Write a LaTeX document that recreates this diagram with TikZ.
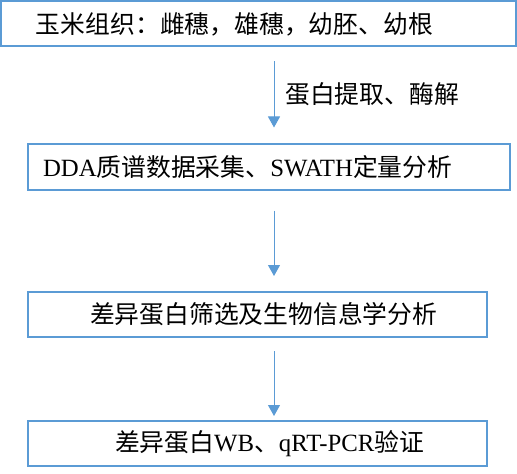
\documentclass[tikz,border=0pt]{standalone}
\usepackage{fontspec}
\setmainfont{Liberation Serif}
\newfontfamily\zhfont{Noto Sans CJK SC}
\newcommand\zh[1]{{\zhfont #1}}
\usetikzlibrary{arrows.meta, calc}
\definecolor{cblue}{HTML}{5B9BD5}
\tikzset{
  every picture/.style={x=0.75pt, y=-0.75pt},
  stage/.style={draw=cblue, line width=1.5pt, fill=white, minimum height=33.75pt, inner xsep=0pt, inner ysep=0pt, align=left, font=\fontsize{18.6pt}{22pt}\selectfont},
  flow/.style={-{Triangle[length=8.25pt, width=9pt]}, draw=cblue, line width=0.75pt},
  note/.style={font=\fontsize{18.6pt}{22pt}\selectfont, anchor=west, inner sep=0pt},
}

\begin{document}
\begin{tikzpicture}
  \useasboundingbox (0,0) rectangle (517,474);
  % the four stages of the workflow
  \foreach \i/\x/\y/\w/\off/\txt in {
      1/258.5/24/386.25pt/26.25pt/{\zh{玉米组织：雌穗，雄穗，幼胚、幼根}},
      2/269/167/361.5pt/11.25pt/{DDA\zh{质谱数据采集、}SWATH\zh{定量分析}},
      3/257.5/314.5/344.25pt/46.5pt/{\zh{差异蛋白筛选及生物信息学分析}},
      4/257.5/443.5/344.25pt/65.25pt/{\zh{差异蛋白}WB\zh{、}qRT-PCR\zh{验证}}} {
    \node[stage, minimum width=\w, text width=\w] (b\i) at (\x,\y) {\hspace*{\off}\txt};
  }

  % arrows down one common axis
  \coordinate (axis) at (274,0);
  \foreach \i/\j/\s/\e in {1/2/10.5pt/12pt, 2/3/15pt/11.25pt, 3/4/9.75pt/3pt} {
    \draw[flow, shorten <=\s, shorten >=\e] (b\i.south -| axis) -- (b\j.north -| axis);
  }
  \node[note] (step1) at (285,94) {\zh{蛋白提取、酶解}};
\end{tikzpicture}
\end{document}
